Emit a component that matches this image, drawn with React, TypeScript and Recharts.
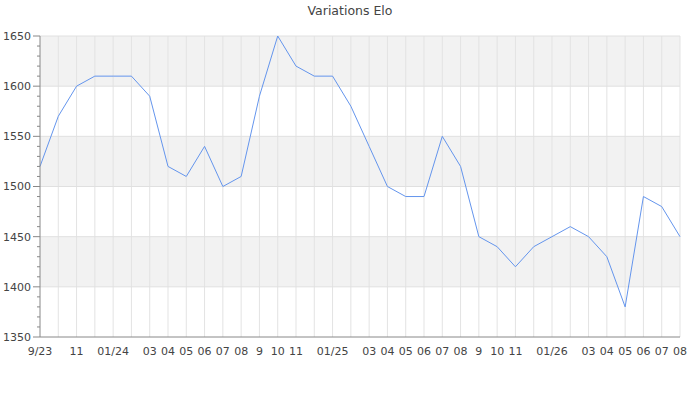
import React from "react";
import {
  LineChart,
  Line,
  XAxis,
  YAxis,
  ReferenceArea,
  ReferenceLine,
} from "recharts";

// monthly points, Sep 2023 -> Aug 2026
const MONTHS = [
  "2023-09", "2023-10", "2023-11", "2023-12", "2024-01", "2024-02",
  "2024-03", "2024-04", "2024-05", "2024-06", "2024-07", "2024-08",
  "2024-09", "2024-10", "2024-11", "2024-12", "2025-01", "2025-02",
  "2025-03", "2025-04", "2025-05", "2025-06", "2025-07", "2025-08",
  "2025-09", "2025-10", "2025-11", "2025-12", "2026-01", "2026-02",
  "2026-03", "2026-04", "2026-05", "2026-06", "2026-07", "2026-08",
];

const TICK_LABELS = [
  "9/23", "", "11", "", "01/24", "",
  "03", "04", "05", "06", "07", "08",
  "9", "10", "11", "", "01/25", "",
  "03", "04", "05", "06", "07", "08",
  "9", "10", "11", "", "01/26", "",
  "03", "04", "05", "06", "07", "08",
];

const ELO = [
  1520, 1570, 1600, 1610, 1610, 1610,
  1590, 1520, 1510, 1540, 1500, 1510,
  1590, 1650, 1620, 1610, 1610, 1580,
  1540, 1500, 1490, 1490, 1550, 1520,
  1450, 1440, 1420, 1440, 1450, 1460,
  1450, 1430, 1380, 1490, 1480, 1450,
];

const Y_TICKS = [
  1350, 1360, 1370, 1380, 1390, 1400, 1410, 1420, 1430, 1440, 1450,
  1460, 1470, 1480, 1490, 1500, 1510, 1520, 1530, 1540, 1550, 1560,
  1570, 1580, 1590, 1600, 1610, 1620, 1630, 1640, 1650,
];
const GRID_LINES = [1400, 1450, 1500, 1550, 1600, 1650];
const GRAY_BANDS = [
  [1400, 1450],
  [1500, 1550],
  [1600, 1650],
];

const data = MONTHS.map((m, i) => ({ month: m, elo: ELO[i] }));

const FONT = "DejaVu Sans, sans-serif";

const YTick = (props: any) => {
  const { x, y, payload } = props;
  const major = payload.value % 50 === 0;
  return (
    <g>
      <line x1={x - (major ? 7 : 3)} x2={x} y1={y} y2={y} stroke="#888" />
      {major && (
        <text
          x={x - 9}
          y={y}
          dy="0.355em"
          textAnchor="end"
          fill="#444"
          fontSize={11}
          fontFamily={FONT}
        >
          {payload.value}
        </text>
      )}
    </g>
  );
};

export default function App() {
  return (
    <div style={{ position: "absolute", left: 0, top: 0, width: 700, height: 400, background: "#fff" }}>
      <div
        style={{
          position: "absolute",
          top: 3,
          width: 700,
          textAlign: "center",
          fontFamily: FONT,
          fontSize: 12.5,
          color: "#444",
        }}
      >
        Variations Elo
      </div>
      <LineChart
        width={700}
        height={400}
        data={data}
        margin={{ top: 36, right: 20, bottom: 33, left: 0 }}
      >
        {GRAY_BANDS.map(([a, b]) => (
          <ReferenceArea key={a} y1={a} y2={b} fill="#f2f2f2" fillOpacity={1} stroke="none" />
        ))}
        {MONTHS.slice(1).map((m) => (
          <ReferenceLine key={m} x={m} stroke="#e3e3e3" />
        ))}
        {GRID_LINES.map((v) => (
          <ReferenceLine key={v} y={v} stroke="#e0e0e0" />
        ))}
        <XAxis
          dataKey="month"
          interval={0}
          tickFormatter={(_v: string, i: number) => TICK_LABELS[i]}
          tickLine={false}
          tickSize={0}
          tickMargin={10}
          stroke="#888"
          tick={{ fill: "#444", fontSize: 11, fontFamily: FONT }}
          height={30}
        />
        <YAxis
          domain={[1350, 1650]}
          ticks={Y_TICKS}
          interval={0}
          tickLine={false}
          tickSize={0}
          tickMargin={0}
          stroke="#888"
          width={40}
          tick={<YTick />}
        />
        <Line
          type="linear"
          dataKey="elo"
          stroke="#6495ed"
          strokeWidth={1}
          dot={false}
          isAnimationActive={false}
        />
      </LineChart>
    </div>
  );
}
